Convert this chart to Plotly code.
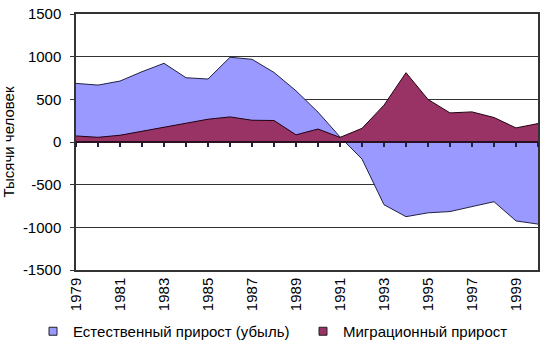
import plotly.graph_objects as go

years = list(range(1979, 2001))
natural = [687, 667, 714, 824, 922, 753, 738, 993, 969, 815, 600, 350, 60, -200,
           -735, -875, -830, -815, -757, -700, -925, -962]
migration = [71, 55, 79, 126, 169, 224, 267, 294, 255, 252, 84, 152, 54, 160,
             432, 812, 499, 341, 353, 287, 165, 216]
x_label_years = list(range(1979, 2000, 2))
y_ticks = [1500, 1000, 500, 0, -500, -1000, -1500]
y_tick_text = ["1500", "1000", "500", "0", "-500", "-1000", "-1500"]
name_nat = "Естественный прирост (убыль)"
name_mig = "Миграционный прирост"
y_title = "Тысячи человек"

BLUE = "#9999FF"
MAROON = "#993366"
FONT = "Liberation Sans, Arial, sans-serif"
FS = 15

fig = go.Figure()
fig.add_trace(go.Scatter(x=years, y=natural, mode="lines", fill="tozeroy",
                         fillcolor=BLUE, line=dict(color="#222244", width=1),
                         showlegend=False, hoverinfo="x+y"))
fig.add_trace(go.Scatter(x=years, y=migration, mode="lines", fill="tozeroy",
                         fillcolor=MAROON, line=dict(color="#220011", width=1),
                         showlegend=False, xaxis="x2", hoverinfo="x+y"))
fig.add_trace(go.Scatter(x=[None], y=[None], mode="markers", name=name_nat,
                         legend="legend",
                         marker=dict(symbol="square", size=8, color=BLUE,
                                     line=dict(color="#222222", width=1))))
fig.add_trace(go.Scatter(x=[None], y=[None], mode="markers", name=name_mig,
                         legend="legend2",
                         marker=dict(symbol="square", size=8, color=MAROON,
                                     line=dict(color="#222222", width=1))))

leg_common = dict(orientation="h", xref="container", yref="container",
                  xanchor="left", yanchor="top", y=1 - 315 / 348,
                  font=dict(size=FS), itemwidth=30, bgcolor="rgba(0,0,0,0)")

fig.update_layout(
    width=551, height=348,
    margin=dict(l=76, r=13, t=14, b=78, autoexpand=False),
    paper_bgcolor="white", plot_bgcolor="white",
    font=dict(family=FONT, size=FS, color="black"),
    xaxis=dict(range=[1979, 2000], tickmode="array", tickvals=x_label_years,
               ticktext=[str(y) for y in x_label_years], tickangle=-90,
               ticks="", showgrid=False, zeroline=False,
               showline=True, mirror=True, linecolor="#333333", linewidth=1.5,
               tickfont=dict(size=FS), automargin=False),
    xaxis2=dict(range=[1979, 2000], overlaying="x", anchor="free", position=0.5,
                tickmode="array", tickvals=years, ticks="outside", ticklen=4,
                tickcolor="#222244", tickwidth=1.5, showticklabels=False,
                showgrid=False, zeroline=False, showline=True,
                linecolor="#2a1020", linewidth=2),
    yaxis=dict(range=[-1500, 1500], tickmode="array", tickvals=y_ticks,
               ticktext=y_tick_text, ticks="outside", ticklen=4,
               tickcolor="#333333", showgrid=True, gridcolor="#333333",
               gridwidth=1, zeroline=False, showline=True, mirror=True,
               linecolor="#333333", linewidth=1.5, ticklabelstandoff=6,
               title=dict(text=y_title, font=dict(size=FS), standoff=5),
               tickfont=dict(size=FS), automargin=False),
    legend=dict(x=33 / 551, **leg_common),
    legend2=dict(x=303 / 551, **leg_common),
)

fig.write_html("out.html")
